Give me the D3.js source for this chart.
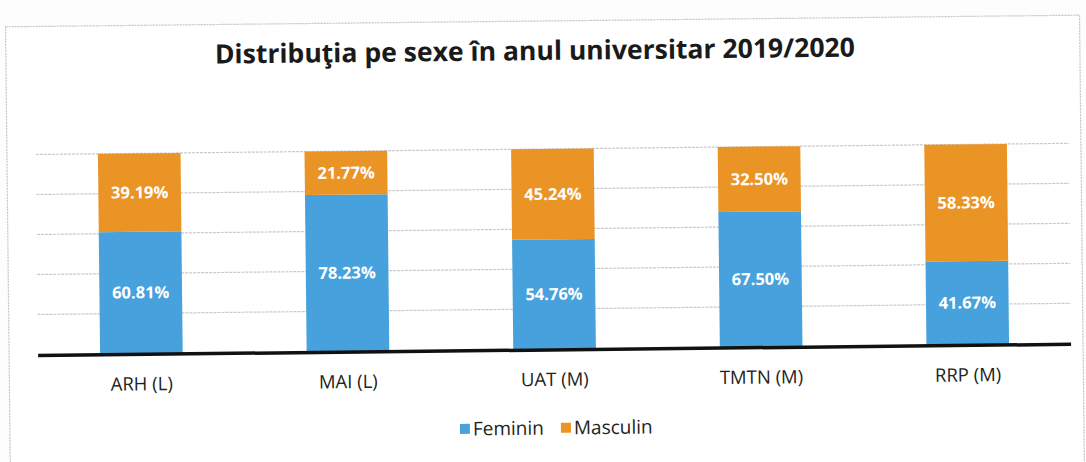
<!DOCTYPE html>
<html>
<head>
<meta charset="utf-8">
<script src="https://cdn.jsdelivr.net/npm/d3@7"></script>
<style>
  body { margin: 0; background: #fdfdfd; }
  text { font-family: "Open Sans", "Noto Sans", sans-serif; }
</style>
</head>
<body>
<script>
var categories = ["ARH (L)", "MAI (L)", "UAT (M)", "TMTN (M)", "RRP (M)"];
var feminin = [60.81, 78.23, 54.76, 67.50, 41.67];
var masculin = [39.19, 21.77, 45.24, 32.50, 58.33];
var yTicks = [0, 20, 40, 60, 80, 100];
var seriesNames = ["Feminin", "Masculin"];
var colors = ["#46a1dc", "#ea9426"];

var W = 1086, H = 462;
var mLeft = 37, mRight = 16, plotTop = 149, plotBottom = 349;

function display() {
    var svg = d3.select("body").append("svg")
        .attr("width", W)
        .attr("height", H);

    // scanned page is slightly tilted
    var g = svg.append("g")
        .attr("transform", "rotate(-0.62," + (W / 2) + "," + 250 + ")");

    g.append("rect")
        .attr("x", 8).attr("y", 21)
        .attr("width", 1074).attr("height", 470)
        .attr("fill", "#ffffff")
        .attr("stroke", "#c4c4c4")
        .attr("stroke-width", 1.2)
        .attr("stroke-dasharray", "2,1");

    g.append("text")
        .attr("x", 537).attr("y", 60)
        .attr("text-anchor", "middle")
        .attr("font-size", 26.5)
        .attr("font-weight", "bold")
        .attr("fill", "#1a1a1a")
        .attr("textLength", 640)
        .attr("lengthAdjust", "spacingAndGlyphs")
        .text("Distribuţia pe sexe în anul universitar 2019/2020");

    var x = d3.scaleBand()
        .domain(categories)
        .range([mLeft, W - mRight])
        .paddingInner(0.6)
        .paddingOuter(0.3);

    var y = d3.scaleLinear()
        .domain([0, 100])
        .range([plotBottom, plotTop]);

    // gridlines
    g.append("g").selectAll(".grid")
        .data(yTicks.slice(1))
        .enter().append("line")
        .attr("x1", mLeft)
        .attr("x2", W - mRight)
        .attr("y1", function(d) { return y(d); })
        .attr("y2", function(d) { return y(d); })
        .attr("stroke", "#c9c9c9")
        .attr("stroke-width", 1.2)
        .attr("stroke-dasharray", "3,1");

    var rows = categories.map(function(c, i) {
        return { cat: c, Feminin: feminin[i], Masculin: masculin[i] };
    });
    var stack = d3.stack().keys(seriesNames)(rows);

    var layers = g.append("g").selectAll(".layer")
        .data(stack)
        .enter().append("g")
        .attr("fill", function(d, i) { return colors[i]; });

    layers.selectAll("rect")
        .data(function(d) { return d; })
        .enter().append("rect")
        .attr("x", function(d) { return x(d.data.cat); })
        .attr("y", function(d) { return y(d[1]); })
        .attr("width", x.bandwidth())
        .attr("height", function(d) { return y(d[0]) - y(d[1]); });

    layers.selectAll("text")
        .data(function(d) { return d; })
        .enter().append("text")
        .attr("x", function(d) { return x(d.data.cat) + x.bandwidth() / 2; })
        .attr("y", function(d) { return (y(d[0]) + y(d[1])) / 2; })
        .attr("dy", "0.35em")
        .attr("text-anchor", "middle")
        .attr("font-size", 16.5)
        .attr("font-weight", "bold")
        .attr("fill", "#ffffff")
        .text(function(d) { return (d[1] - d[0]).toFixed(2) + "%"; });

    // baseline axis
    g.append("line")
        .attr("x1", mLeft)
        .attr("x2", W - mRight)
        .attr("y1", y(0) + 1)
        .attr("y2", y(0) + 1)
        .attr("stroke", "#111")
        .attr("stroke-width", 3.5);

    g.append("g").selectAll(".catLabel")
        .data(categories)
        .enter().append("text")
        .attr("x", function(d) { return x(d) + x.bandwidth() / 2; })
        .attr("y", 386)
        .attr("text-anchor", "middle")
        .attr("font-size", 18.5)
        .attr("fill", "#222")
        .text(function(d) { return d; });

    // legend
    var legendX = [458, 559];
    var legend = g.append("g").selectAll(".legend")
        .data(seriesNames)
        .enter().append("g")
        .attr("transform", function(d, i) { return "translate(" + legendX[i] + ",428)"; });

    legend.append("rect")
        .attr("x", 0).attr("y", -5)
        .attr("width", 10).attr("height", 10)
        .attr("fill", function(d, i) { return colors[i]; });

    legend.append("text")
        .attr("x", 13)
        .attr("dy", "0.35em")
        .attr("font-size", 19)
        .attr("fill", "#222")
        .text(function(d) { return d; });
}

document.addEventListener("DOMContentLoaded", function() {
    display();
});
</script>
</body>
</html>
